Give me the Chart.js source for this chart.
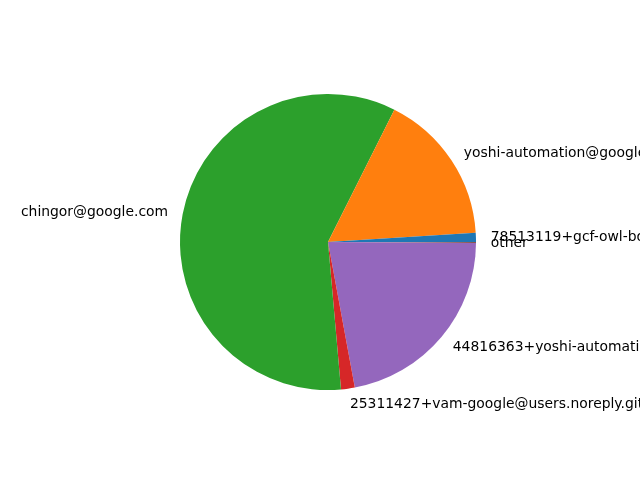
<!DOCTYPE html>
<html>
<head>
<meta charset="utf-8">
<script src="https://cdn.jsdelivr.net/npm/chart.js"></script>
<style>
html,body{margin:0;padding:0;background:#fff;}
canvas{display:block;}
</style>
</head>
<body>
<canvas id="c" width="640" height="480"></canvas>
<script>
// Data in matplotlib order (counter-clockwise from east)
const labels = [
  "78513119+gcf-owl-bot[bot]@users.noreply.github.com",
  "yoshi-automation@google.com",
  "chingor@google.com",
  "25311427+vam-google@users.noreply.github.com",
  "44816363+yoshi-automation@users.noreply.github.com",
  "other"
];
const values = [1.0, 16.6, 58.8, 1.5, 22.0, 0.1];
const colors = ["#1f77b4", "#ff7f0e", "#2ca02c", "#d62728", "#9467bd", "#8c564b"];

// Chart.js draws clockwise from top; reverse for matplotlib's CCW-from-east
const rLabels = labels.slice().reverse();
const rValues = values.slice().reverse();
const rColors = colors.slice().reverse();

const labelPlugin = {
  id: 'mplLabels',
  afterDatasetsDraw(chart) {
    const ctx = chart.ctx;
    const meta = chart.getDatasetMeta(0);
    ctx.save();
    ctx.font = '13.9px "DejaVu Sans"';
    ctx.fillStyle = '#000';
    ctx.textBaseline = 'middle';
    meta.data.forEach((arc, i) => {
      const mid = (arc.startAngle + arc.endAngle) / 2;
      const r = arc.outerRadius * 1.1;
      const x = arc.x + Math.cos(mid) * r;
      const y = arc.y + Math.sin(mid) * r + 1;
      ctx.textAlign = (Math.cos(mid) > 0) ? 'left' : 'right';
      ctx.fillText(rLabels[i], x, y);
    });
    ctx.restore();
  }
};

new Chart(document.getElementById('c'), {
  type: 'pie',
  data: {
    labels: rLabels,
    datasets: [{
      data: rValues,
      backgroundColor: rColors,
      borderWidth: 0
    }]
  },
  options: {
    responsive: false,
    animation: false,
    devicePixelRatio: 1,
    rotation: 90,
    layout: { padding: { left: 180, right: 164, top: 94, bottom: 90 } },
    plugins: {
      legend: { display: false },
      tooltip: { enabled: false }
    }
  },
  plugins: [labelPlugin]
});
</script>
</body>
</html>
